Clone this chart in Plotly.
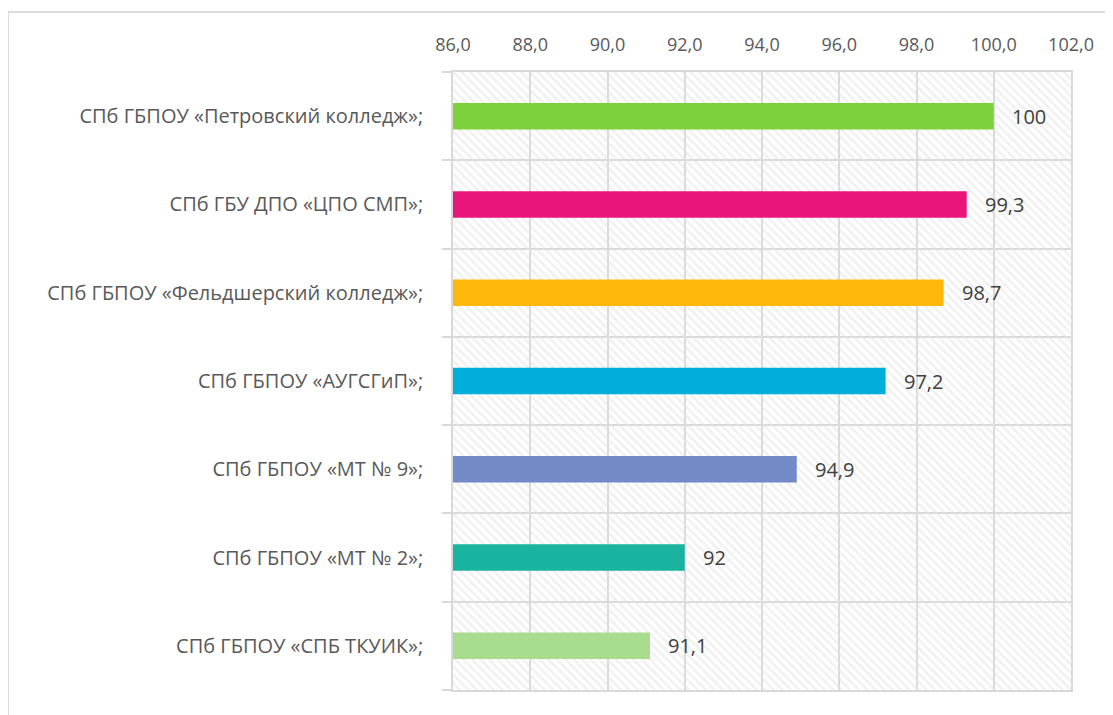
import plotly.graph_objects as go

categories = [
    "СПб ГБПОУ «Петровский колледж»;",
    "СПб ГБУ ДПО «ЦПО СМП»;",
    "СПб ГБПОУ «Фельдшерский колледж»;",
    "СПб ГБПОУ «АУГСГиП»;",
    "СПб ГБПОУ «МТ № 9»;",
    "СПб ГБПОУ «МТ № 2»;",
    "СПб ГБПОУ «СПБ ТКУИК»;",
]
values = [100, 99.3, 98.7, 97.2, 94.9, 92, 91.1]
value_labels = ["100", "99,3", "98,7", "97,2", "94,9", "92", "91,1"]
colors = ["#7DD13D", "#EA157A", "#FDB80B", "#00ADDB", "#738AC8", "#1AB39F", "#A8DC8E"]
x_ticks = [86, 88, 90, 92, 94, 96, 98, 100, 102]
x_min, x_max = 86, 102

ypos = list(range(len(categories)))

fig = go.Figure()

# hatched plot background (one full-width band per category row)
fig.add_trace(go.Bar(
    y=ypos, x=[x_max - x_min] * len(ypos), base=x_min, orientation="h",
    width=1.0,
    marker=dict(color="rgba(0,0,0,0)", line=dict(width=0),
                pattern=dict(shape="\\", fgcolor="#e4e4e4", bgcolor="rgba(0,0,0,0)",
                             size=6, solidity=0.45)),
    hoverinfo="skip", showlegend=False,
))

fig.add_trace(go.Bar(
    y=ypos, x=[v - x_min for v in values], base=x_min, orientation="h",
    marker=dict(color=colors, line=dict(width=0)),
    width=0.3, showlegend=False,
))

for yy, v, lab in zip(ypos, values, value_labels):
    fig.add_annotation(x=v, y=yy, text=lab, showarrow=False, xanchor="left",
                       xshift=16, font=dict(family="Open Sans", size=20, color="#404040"))

fig.update_layout(
    width=1113, height=715,
    margin=dict(l=445, r=50, t=64, b=33),
    paper_bgcolor="white", plot_bgcolor="white",
    barmode="overlay",
    xaxis=dict(
        range=[x_min, x_max], side="top", tickvals=x_ticks,
        ticktext=[f"{t:.1f}".replace(".", ",") for t in x_ticks],
        tickfont=dict(family="Open Sans", size=18, color="#595959"),
        showgrid=True, gridcolor="#d9d9d9", gridwidth=1.5,
        showline=True, linecolor="#d9d9d9", linewidth=1.5, mirror=True,
        zeroline=False, ticks="", ticklabelstandoff=12,
    ),
    yaxis=dict(
        range=[len(categories) - 0.5, -0.5], tickvals=ypos, ticktext=categories,
        tickfont=dict(family="Open Sans", size=20, color="#595959"),
        showgrid=False, zeroline=False,
        showline=True, linecolor="#d9d9d9", linewidth=1.5, mirror=True,
        ticks="", ticklabelstandoff=24,
        minor=dict(tickvals=[i + 0.5 for i in range(-1, len(categories))],
                   showgrid=True, gridcolor="#d9d9d9", gridwidth=1.5,
                   ticks="outside", ticklen=9, tickcolor="#d9d9d9", tickwidth=1.5),
    ),
)

# outer chart border (figure pixel coords)
W, H = 1113, 715
ml, mr, mt, mb = 445, 50, 64, 33
pw, ph = W - ml - mr, H - mt - mb
def px(x):
    return (x - ml) / pw
def py(y):
    return (H - mb - y) / ph
fig.add_shape(type="rect", xref="paper", yref="paper",
              x0=px(0), x1=px(1120), y0=py(730), y1=py(4),
              line=dict(color="#dcdcdc", width=2), fillcolor="rgba(0,0,0,0)", layer="below")

fig.write_html("out.html")
